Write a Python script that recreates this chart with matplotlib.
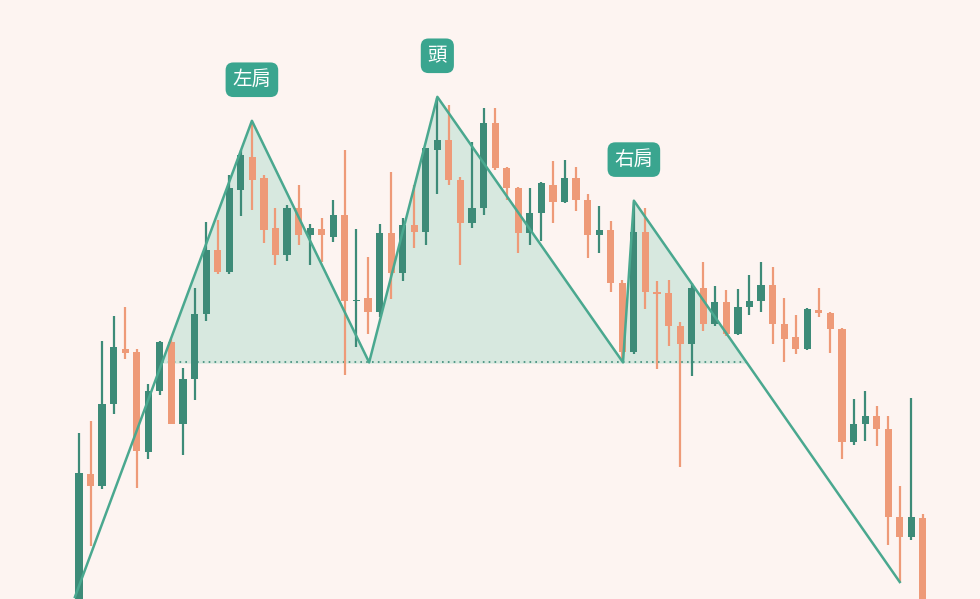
import numpy as np
import matplotlib
matplotlib.use("Agg")
from matplotlib import pyplot as plt

plt.rcParams["font.family"] = ["Noto Sans CJK TC", "DejaVu Sans"]

# OHLC values (price units, arbitrary scale)
opens = [-5, 125, 113, 195, 250, 247, 147, 208, 257, 175, 220, 285, 350, 328, 410,
         443, 422, 372, 345, 392, 365, 371, 363, 385, 298, 302, 287, 367, 327, 375,
         368, 450, 460, 420, 377, 392, 477, 432, 412, 367, 387, 415, 398, 422, 400,
         365, 370, 317, 247, 368, 308, 307, 273, 255, 312, 275, 297, 265, 292, 298,
         315, 275, 262, 250, 289, 286, 270, 157, 175, 183, 170, 82, 62, 81]
closes = [126, 113, 195, 252, 246, 148, 208, 257, 175, 220, 285, 350, 328, 412, 445,
          420, 370, 345, 392, 365, 372, 365, 385, 298, 300, 287, 367, 327, 375, 368,
          452, 460, 420, 377, 392, 477, 432, 412, 367, 387, 417, 398, 422, 400, 365,
          370, 317, 247, 368, 308, 306, 273, 255, 312, 275, 297, 265, 292, 298, 315,
          275, 260, 250, 290, 286, 270, 157, 175, 183, 170, 82, 62, 82, -10]
highs = [166, 178, 258, 283, 292, 250, 215, 258, 260, 231, 312, 378, 380, 425, 450,
         478, 425, 392, 395, 415, 376, 382, 400, 450, 371, 343, 376, 428, 382, 415,
         452, 502, 495, 423, 458, 492, 492, 433, 413, 412, 418, 439, 440, 433, 406,
         394, 379, 320, 398, 392, 319, 320, 277, 317, 338, 314, 310, 311, 325, 338,
         333, 302, 284, 291, 312, 287, 271, 200, 208, 193, 183, 113, 201, 85]
lows = [-10, 53, 110, 185, 240, 111, 140, 204, 175, 144, 199, 278, 326, 326, 384,
        390, 357, 335, 339, 355, 335, 338, 358, 224, 252, 265, 282, 301, 319, 352,
        355, 406, 415, 335, 372, 385, 430, 400, 347, 355, 359, 377, 397, 389, 342,
        347, 308, 238, 245, 290, 230, 253, 132, 223, 268, 273, 263, 264, 284, 287,
        255, 237, 245, 249, 282, 246, 140, 154, 158, 153, 54, 17, 59, -10]

# head and shoulders outline
pattern_x = [-0.35, 14.96, 25.1, 31.0, 47.06, 48.0, 71.0]
pattern_y = [2, 479, 237, 503, 237, 399, 17]
neckline = 237
labels = [("左肩", 1), ("頭", 3), ("右肩", 5)]

GREEN = "#3d8b78"
ORANGE = "#ee9a78"
BG = "#fdf4f1"
TEAL = "#3aa58f"

fig = plt.figure(figsize=(9.8, 5.99), dpi=100, facecolor=BG)
ax = fig.add_axes([0, 0, 1, 1])
ax.set_facecolor(BG)

# shaded area between pattern line and neckline
xs = np.linspace(pattern_x[0], pattern_x[-1], 2000)
ys = np.interp(xs, pattern_x, pattern_y)
inside = ys >= neckline
ax.fill_between(xs, neckline, ys, where=inside, color="#d3e7dd", alpha=0.9, zorder=1)
xin = xs[inside]
ax.plot([xin.min(), xin.max()], [neckline, neckline], ls=(0, (1, 2.5)), color=GREEN,
        lw=1.2, zorder=2)

idx = np.arange(len(opens))
o = np.array(opens); c = np.array(closes)
colors = [GREEN if cc >= oo else ORANGE for oo, cc in zip(o, c)]
ax.vlines(idx, lows, highs, colors=colors, lw=1.6, zorder=3)
body = np.maximum(np.abs(c - o), 1.5)
ax.bar(idx, body, bottom=np.minimum(o, c), width=0.62, color=colors, zorder=3)

ax.plot(pattern_x, pattern_y, color="#4aa88f", lw=1.8, zorder=4)

for text, k in labels:
    ax.annotate(text, (pattern_x[k], pattern_y[k]), xytext=(0, 22),
                textcoords="offset points", ha="center", va="bottom", fontsize=14,
                color="white", zorder=5,
                bbox=dict(boxstyle="round,pad=0.35,rounding_size=0.4", fc=TEAL, ec="none"))

ax.set_xlim(-6.83, 77.94)
ax.set_ylim(0, 600)
ax.axis("off")

fig.savefig("out.png", dpi=100, facecolor=BG)
